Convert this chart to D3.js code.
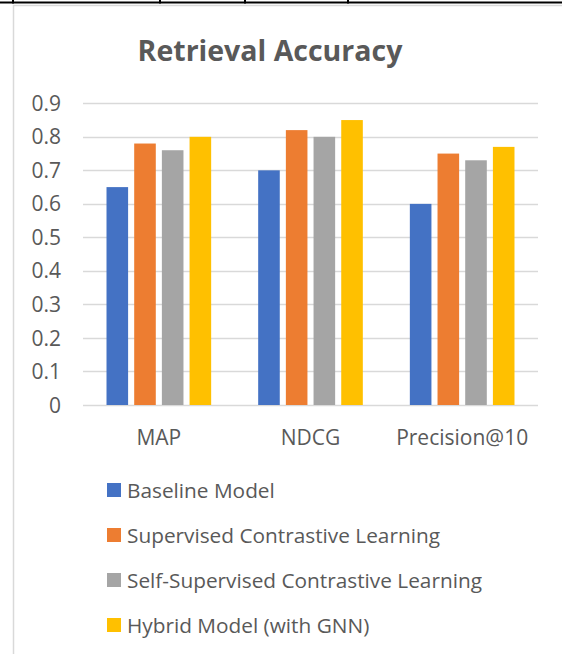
<!DOCTYPE html>
<html>
<head>
<meta charset="utf-8">
<script src="https://cdn.jsdelivr.net/npm/d3@7"></script>
<style>
  body { margin: 0; background: #fff; }
  svg { display: block; font-family: "Open Sans", "Noto Sans", sans-serif; }
</style>
</head>
<body>
<svg id="chart" width="562" height="654"></svg>
<script>
// data
const categories = ["MAP", "NDCG", "Precision@10"];
const seriesNames = ["Baseline Model", "Supervised Contrastive Learning", "Self-Supervised Contrastive Learning", "Hybrid Model (with GNN)"];
const baseline = [0.65, 0.70, 0.60];
const supervised = [0.78, 0.82, 0.75];
const selfSupervised = [0.76, 0.80, 0.73];
const hybrid = [0.80, 0.85, 0.77];
const yTicks = [0, 0.1, 0.2, 0.3, 0.4, 0.5, 0.6, 0.7, 0.8, 0.9];
const colors = ["#4472C4", "#ED7D31", "#A5A5A5", "#FFC000"];

const series = [baseline, supervised, selfSupervised, hybrid];
const textColor = "#595959";

const svg = d3.select("#chart");

// page table border remnants at the top
svg.append("line")
	.attr("x1", 0).attr("x2", 562).attr("y1", 2.5).attr("y2", 2.5)
	.attr("stroke", "#000").attr("stroke-width", 2);
[13, 160, 245, 348].forEach((x) => {
	svg.append("line")
		.attr("x1", x).attr("x2", x).attr("y1", 0).attr("y2", 3.5)
		.attr("stroke", "#000").attr("stroke-width", 2);
});

// chart frame
svg.append("path")
	.attr("d", "M13.5,654 V5.5 H562")
	.attr("fill", "none")
	.attr("stroke", "#D9D9D9")
	.attr("stroke-width", 1.5);

// title
svg.append("text")
	.attr("x", 270)
	.attr("y", 61)
	.attr("text-anchor", "middle")
	.attr("fill", textColor)
	.attr("font-size", 28.5)
	.attr("font-weight", "bold")
	.text("Retrieval Accuracy");

const plot = { left: 83, right: 538, top: 103.3, bottom: 405 };

const y = d3.scaleLinear()
	.domain([0, 0.9])
	.range([plot.bottom, plot.top]);

const x0 = d3.scaleBand()
	.domain(categories)
	.range([plot.left, plot.right])
	.paddingInner(0)
	.paddingOuter(0);

const x1 = d3.scaleBand()
	.domain(d3.range(series.length))
	.range([x0.bandwidth() * 0.155, x0.bandwidth() * 0.845])
	.paddingInner(0.22);

// gridlines
svg.append("g")
	.selectAll("line")
	.data(yTicks)
	.join("line")
	.attr("x1", plot.left)
	.attr("x2", plot.right)
	.attr("y1", (d) => Math.round(y(d)) + 0.5)
	.attr("y2", (d) => Math.round(y(d)) + 0.5)
	.attr("stroke", "#D9D9D9")
	.attr("stroke-width", 1.3);

// y tick labels
svg.append("g")
	.selectAll("text")
	.data(yTicks)
	.join("text")
	.attr("x", 61)
	.attr("y", (d) => y(d))
	.attr("dy", "0.36em")
	.attr("text-anchor", "end")
	.attr("fill", textColor)
	.attr("font-size", 21)
	.text((d) => d === 0 ? "0" : d3.format(".1f")(d));

// bars
const groups = svg.append("g")
	.selectAll("g")
	.data(categories)
	.join("g")
	.attr("transform", (d) => `translate(${x0(d)},0)`);

groups.selectAll("rect")
	.data((d, i) => series.map((s, k) => ({ k, value: s[i] })))
	.join("rect")
	.attr("x", (d) => x1(d.k))
	.attr("width", x1.bandwidth())
	.attr("y", (d) => y(d.value))
	.attr("height", (d) => plot.bottom - y(d.value))
	.attr("fill", (d) => colors[d.k]);

// category labels
svg.append("g")
	.selectAll("text")
	.data(categories)
	.join("text")
	.attr("x", (d) => x0(d) + x0.bandwidth() / 2)
	.attr("y", 445)
	.attr("text-anchor", "middle")
	.attr("fill", textColor)
	.attr("font-size", 21)
	.text((d) => d);

// legend
const legend = svg.append("g")
	.selectAll("g")
	.data(seriesNames)
	.join("g")
	.attr("transform", (d, i) => `translate(107,${490 + i * 45})`);

legend.append("rect")
	.attr("x", 0)
	.attr("y", -7)
	.attr("width", 14)
	.attr("height", 14)
	.attr("fill", (d, i) => colors[i]);

legend.append("text")
	.attr("x", 20)
	.attr("y", 0)
	.attr("dy", "0.36em")
	.attr("fill", textColor)
	.attr("font-size", 20.8)
	.text((d) => d);
</script>
</body>
</html>
